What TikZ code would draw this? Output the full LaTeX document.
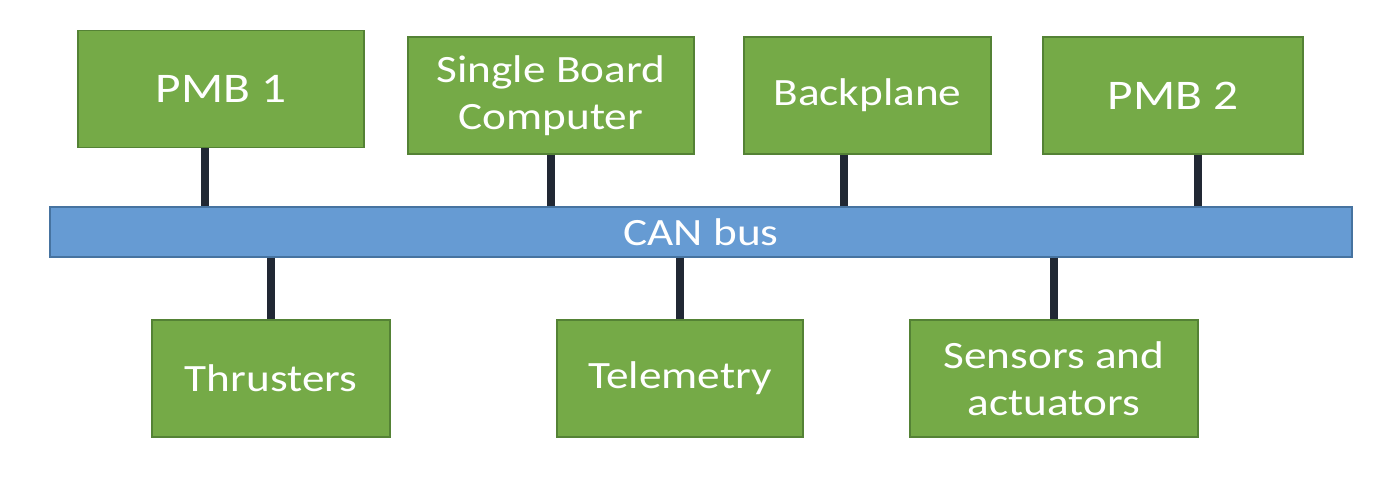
\documentclass[tikz,border=0pt]{standalone}
\usepackage{fontspec}
\setmainfont{Carlito}[FakeStretch=1.17]
\usepackage{xcolor}
\usepackage{tikz}
\definecolor{unitgreen}{RGB}{117,170,71}
\definecolor{unitborder}{RGB}{84,130,53}
\definecolor{busblue}{RGB}{102,155,211}
\definecolor{busborder}{RGB}{70,115,160}
\definecolor{linkdark}{RGB}{33,40,52}

\begin{document}
\begin{tikzpicture}[x=0.02cm, y=-0.02cm,
    unit/.style={rectangle, draw=unitborder, fill=unitgreen, line width=0.8pt,
        text=white, align=center, inner sep=0pt, minimum height=2.34cm,
        font=\fontsize{22}{26.5}\selectfont},
    pmb/.style={unit, font=\fontsize{24}{28}\selectfont},
    bus/.style={rectangle, draw=busborder, fill=busblue, line width=0.8pt,
        text=white, inner sep=0pt, minimum width=26.04cm, minimum height=1cm,
        font=\fontsize{22}{26.5}\selectfont},
    link/.style={draw=linkdark, line width=4pt}
]
\useasboundingbox (0,0) rectangle (1400,487);

\node[bus] (can) at (701,232) {CAN bus};

\node[pmb, minimum width=5.72cm]  (pmb1) at (221,89)     {PMB 1};
\node[unit, minimum width=5.72cm] (sbc)  at (551,95.5)   {Single Board\\Computer};
\node[unit, minimum width=4.94cm] (back) at (867.5,95.5) {Backplane};
\node[pmb, minimum width=5.2cm]   (pmb2) at (1173,95.5)  {PMB 2};

\node[unit, minimum width=4.76cm] (thr) at (271,378.5)  {Thrusters};
\node[unit, minimum width=4.92cm] (tel) at (680,378.5)  {Telemetry};
\node[unit, minimum width=5.76cm] (sen) at (1054,378.5) {Sensors and\\actuators};

% stubs to the bus
\draw[link] ([xshift=-0.32cm]pmb1.south) -- ([xshift=-0.32cm]pmb1.south |- can.north);
\draw[link] (sbc.south)  -- (sbc.south |- can.north);
\draw[link] ([xshift=-0.47cm]back.south) -- ([xshift=-0.47cm]back.south |- can.north);
\draw[link] ([xshift=0.5cm]pmb2.south) -- ([xshift=0.5cm]pmb2.south |- can.north);
\draw[link] (can.south -| thr.north) -- (thr.north);
\draw[link] (can.south -| tel.north) -- (tel.north);
\draw[link] (can.south -| sen.north) -- (sen.north);
\end{tikzpicture}
\end{document}
